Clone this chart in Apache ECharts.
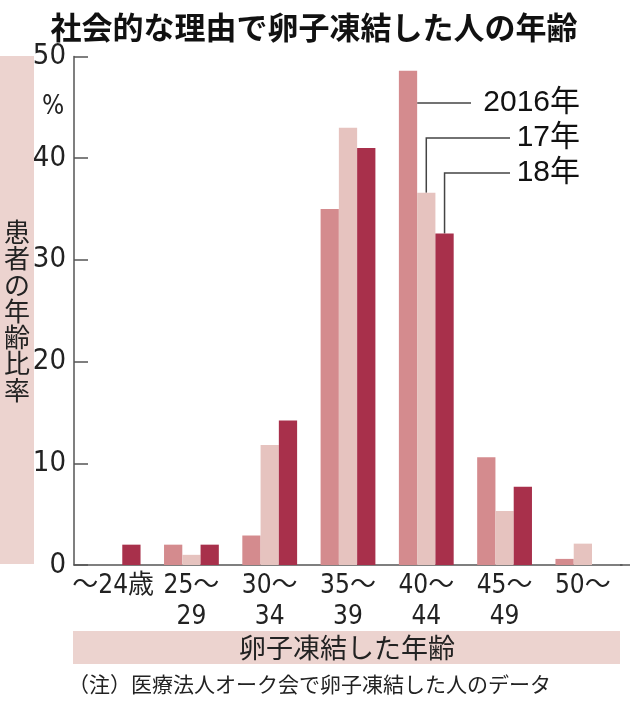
<!DOCTYPE html>
<html>
<head>
<meta charset="utf-8">
<script src="https://cdn.jsdelivr.net/npm/echarts@6/dist/echarts.min.js"></script>
<style>
  html, body { margin: 0; padding: 0; background: #fff; }
  #chart { width: 630px; height: 706px; }
</style>
</head>
<body>
<div id="chart"></div>
<script>
// data
var ageGroups = ['～24歳', '25～\n29', '30～\n34', '35～\n39', '40～\n44', '45～\n49', '50～'];
var years = ['2016年', '17年', '18年'];
var v2016 = [0, 2, 2.9, 35, 48.6, 10.6, 0.6];
var v2017 = [0, 1, 11.8, 43, 36.6, 5.3, 2.1];
var v2018 = [2, 2, 14.2, 41, 32.6, 7.7, 0];
var yTicks = [0, 10, 20, 30, 40, 50];

var colors = ['#d48b8e', '#e6c3bf', '#a8304b'];
var band = '#ecd3cf';
var narrow = "'Liberation Sans Narrow', 'DejaVu Sans Condensed', 'Noto Sans CJK JP', sans-serif";
var cjk = "'Noto Sans CJK JP', sans-serif";
var latin = "'Liberation Sans', 'Noto Sans CJK JP', sans-serif";

var chart = echarts.init(document.getElementById('chart'));

var option = {
    animation: false,
    color: colors,
    grid: { left: 74, right: 8, top: 56.5, bottom: 141 },
    xAxis: {
        type: 'category',
        data: ageGroups,
        axisLine: { lineStyle: { color: '#555', width: 1.5 } },
        axisTick: { show: false },
        axisLabel: {
            color: '#222', fontSize: 26, fontFamily: narrow,
            lineHeight: 31, margin: 6, interval: 0
        }
    },
    yAxis: {
        type: 'value',
        min: yTicks[0],
        max: yTicks[yTicks.length - 1],
        interval: 10,
        splitLine: { show: false },
        axisLine: { show: true, lineStyle: { color: '#555', width: 1.5 } },
        axisTick: { show: true, inside: true, length: 14, lineStyle: { color: '#555', width: 1.5 } },
        axisLabel: { color: '#222', fontSize: 29, fontFamily: narrow, margin: 8 }
    },
    series: [
        { name: years[0], type: 'bar', data: v2016, barGap: '0%', barCategoryGap: '30%' },
        { name: years[1], type: 'bar', data: v2017, barGap: '0%', barCategoryGap: '30%' },
        { name: years[2], type: 'bar', data: v2018, barGap: '0%', barCategoryGap: '30%' }
    ]
};
chart.setOption(option);

// leader lines for the year labels, anchored to the 40-44 bars
var gi = 4;
var gridW = 630 - 74 - 8;
var bw = gridW / ageGroups.length * 0.7 / 3;
var c = chart.convertToPixel({ seriesIndex: 0 }, [gi, 0]);
var zeroY = c[1];
var top17 = chart.convertToPixel({ seriesIndex: 1 }, [gi, v2017[gi]])[1];
var top18 = chart.convertToPixel({ seriesIndex: 2 }, [gi, v2018[gi]])[1];
var cx = c[0];
var x16r = cx - 0.5 * bw;
var x17 = cx;
var x18 = cx + bw;
var ln = { stroke: '#444', lineWidth: 1.5 };
var yL = [103, 138, 173];

var graphics = [
    // y axis title band
    { type: 'rect', shape: { x: 0, y: 56, width: 34, height: 508 }, style: { fill: band }, z: -1 },
    { type: 'text', x: 17, y: 311, style: {
        text: '患\n者\nの\n年\n齢\n比\n率', fill: '#222', fontSize: 26, lineHeight: 26.3,
        fontFamily: cjk, align: 'center', verticalAlign: 'middle' } },
    // x axis title band
    { type: 'rect', shape: { x: 73, y: 631, width: 547, height: 33 }, style: { fill: band }, z: -1 },
    { type: 'text', x: 347, y: 647.5, style: {
        text: '卵子凍結した年齢', fill: '#222', fontSize: 27, fontFamily: cjk,
        align: 'center', verticalAlign: 'middle' } },
    // title
    { type: 'text', x: 314, y: 27, style: {
        text: '社会的な理由で卵子凍結した人の年齢', fill: '#111', fontSize: 31,
        fontWeight: 'bold', fontFamily: cjk, align: 'center', verticalAlign: 'middle' } },
    // unit
    { type: 'text', x: 53, y: 107, style: {
        text: '%', fill: '#222', fontSize: 26, fontFamily: narrow,
        align: 'center', verticalAlign: 'middle' } },
    // note
    { type: 'text', x: 68, y: 684, style: {
        text: '（注）医療法人オーク会で卵子凍結した人のデータ', fill: '#222', fontSize: 21,
        fontFamily: cjk, align: 'left', verticalAlign: 'middle' } },
    // x axis line extension to the edge
    { type: 'line', shape: { x1: 620, y1: zeroY, x2: 630, y2: zeroY }, style: { stroke: '#555', lineWidth: 1.5 } },
    // year leaders
    { type: 'polyline', shape: { points: [[x16r, yL[0]], [471, yL[0]]] }, style: ln },
    { type: 'polyline', shape: { points: [[x17, top17], [x17, yL[1]], [510, yL[1]]] }, style: ln },
    { type: 'polyline', shape: { points: [[x18, top18], [x18, yL[2]], [510, yL[2]]] }, style: ln }
];
for (var i = 0; i < years.length; i++) {
    graphics.push({ type: 'text', x: 580, y: yL[i], style: {
        text: years[i], fill: '#111', fontSize: 30, fontFamily: latin,
        align: 'right', verticalAlign: 'middle' } });
}
chart.setOption({ graphic: graphics });
</script>
</body>
</html>
